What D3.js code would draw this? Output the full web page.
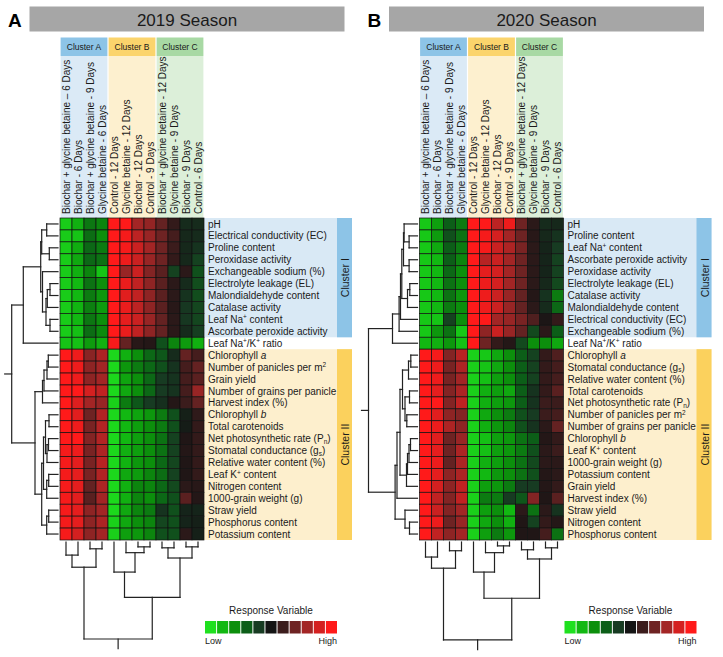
<!DOCTYPE html>
<html>
<head>
<meta charset="utf-8">
<script src="https://cdn.jsdelivr.net/npm/d3@7"></script>
<style>
  html, body { margin: 0; padding: 0; background: #fff; }
  svg { display: block; font-family: "Liberation Sans", Arial, sans-serif; }
</style>
</head>
<body>
<svg id="chart" width="723" height="657"></svg>
<script>
// ---- data ----
const columns = [
  "Biochar + glycine betaine \u2013 6 Days",
  "Biochar - 6 Days",
  "Biochar + glycine betaine - 9 Days",
  "Glycine betaine - 6 Days",
  "Control - 12 Days",
  "Glycine betaine - 12 Days",
  "Biochar - 12 Days",
  "Control - 9 Days",
  "Biochar + glycine betaine - 12 Days",
  "Glycine betaine - 9 Days",
  "Biochar - 9 Days",
  "Control - 6 Days",
];

const colClusters = [
  { name: "Cluster A", first: 0, last: 3 },
  { name: "Cluster B", first: 4, last: 7 },
  { name: "Cluster C", first: 8, last: 11 },
];
const rowClusters = [
  { name: "Cluster I", first: 0, last: 9 },
  { name: "Cluster II", first: 11, last: 26 },
];

// ^x superscript, _x subscript, *x* italic
const rowsA = [
  "pH", "Electrical conductivity (EC)", "Proline content", "Peroxidase activity",
  "Exchangeable sodium (%)", "Electrolyte leakage (EL)", "Malondialdehyde content",
  "Catalase activity", "Leaf Na^+ content", "Ascorbate peroxide activity",
  "Leaf Na^+/K^+ ratio",
  "Chlorophyll *a*", "Number of panicles per m^2", "Grain yield", "Number of grains per panicle",
  "Harvest index (%)", "Chlorophyll *b*", "Total carotenoids", "Net photosynthetic rate (P_n)",
  "Stomatal conductance (g_s)", "Relative water content (%)", "Leaf K^+ content",
  "Nitrogen content", "1000-grain weight (g)", "Straw yield", "Phosphorus content", "Potassium content",
];
const rowsB = [
  "pH", "Proline content", "Leaf Na^+ content", "Ascorbate peroxide activity",
  "Peroxidase activity", "Electrolyte leakage (EL)", "Catalase activity",
  "Malondialdehyde content", "Electrical conductivity (EC)", "Exchangeable sodium (%)",
  "Leaf Na^+/K^+ ratio",
  "Chlorophyll *a*", "Stomatal conductance (g_s)", "Relative water content (%)", "Total carotenoids",
  "Net photosynthetic rate (P_n)", "Number of panicles per m^2", "Number of grains per panicle",
  "Chlorophyll *b*", "Leaf K^+ content", "1000-grain weight (g)", "Potassium content",
  "Grain yield", "Harvest index (%)", "Straw yield", "Nitrogen content", "Phosphorus content",
];

// scaled response (-5 low ... 5 high)
const valuesA = [
  [-4.5,-3.8,-2.5,-2.8,5,5,3,2.7,1.8,0.8,-0.6,-0.6],
  [-4.5,-4.3,-2.3,-3,5,4.8,3.5,2.8,2,1.2,-0.5,-0.6],
  [-4.5,-3.7,-2.2,-2.6,5,4.8,3.8,3,2,1,-0.5,-0.8],
  [-4.5,-3.6,-2.2,-2.4,5,4.6,3.8,2.8,2,0.8,-0.5,-1.2],
  [-4.5,-3.8,-2.8,-4.3,5,2.8,3.8,2.4,1.6,-1.2,0.6,-1.6],
  [-4.5,-4,-2.4,-3,5,4.5,3.6,2.6,1.6,0.6,-0.6,-1.5],
  [-4.5,-4,-2.6,-3.2,5,4.3,3.6,2.6,1.6,0.6,-0.8,-1.5],
  [-4.5,-3.9,-2.7,-3.3,5,4.5,3.5,2.6,1.6,0.5,-0.9,-1.3],
  [-4.5,-4,-2.5,-3,5,4.4,3.8,2.8,1.8,0.6,-0.9,-1.3],
  [-4.5,-4.2,-2.3,-2.9,5,4.5,3.6,2.6,1.8,0.6,-0.6,-1.1],
  [-4.3,-4.2,-3.3,-3.8,4.8,1.8,0.5,0.4,-1.6,-2.8,-3.3,-3.8],
  [5,4.6,2.5,3.2,-4.8,-3.8,-3,-2.2,-1.8,-0.6,1.8,1.2],
  [5,4.6,2.6,3,-4.8,-3.2,-2.6,-2.2,-1.6,-0.8,1.2,1.8],
  [5,4.6,2.6,3,-4.8,-3.5,-3,-2.2,-1,-0.8,1.2,1.6],
  [5,5,4,3.6,-4.8,-3.6,-3,-2.2,-1,-0.8,1.2,2.8],
  [5,4.2,3,2.8,-4.6,-2.6,-1.8,-1,-0.7,0.4,1,1.8],
  [5,4.3,2,3.3,-4.8,-4,-3.5,-3.2,-2.6,-1.6,-0.3,0.7],
  [5,4.6,2.2,3.3,-4.8,-4,-3.4,-3,-2.6,-1.6,-0.2,0.8],
  [5,5,2.4,3.3,-4.8,-4,-3.4,-3,-2.4,-1.2,0.3,0.8],
  [4.8,4.6,2.2,3.2,-4.8,-3.8,-3.4,-3,-2.4,-1.2,0.4,0.8],
  [4.8,4.4,2.2,3.4,-4.8,-3.9,-3.2,-3,-2.2,-1.3,0.3,0.8],
  [4.8,4.4,2.2,3.3,-4.8,-3.6,-3.3,-2.8,-2.3,-1.2,0.3,0.8],
  [4.8,4.4,1.8,3.2,-4.8,-3.8,-2.8,-2.8,-2.2,-1.4,0.6,0.5],
  [4.8,4.3,1.6,3,-4.8,-3.8,-2.8,-3,-2.2,-1.6,1.6,0.4],
  [4.8,4.4,2.6,3,-4.8,-3.6,-2.8,-2.6,-0.8,-1.6,-0.4,-0.4],
  [4.8,4.4,2.6,3.2,-4.6,-3.6,-3,-2.8,-1.3,-1.6,-0.4,-0.3],
  [4.8,4,2.6,3,-4.6,-3.4,-3.2,-2.8,-1.6,-1.6,0.6,-0.3],
];
const valuesB = [
  [-4.4,-3.4,-2,-2.6,5,5,3.5,4.6,2,0.6,-0.6,-0.5],
  [-4.4,-3.3,-1.6,-2.4,5,4.8,4,3,2,0.5,-0.5,-0.8],
  [-4.4,-3.6,-2,-2.6,5,4.8,3.8,3.2,2.2,0.6,-0.4,-1],
  [-4.4,-4,-2,-2.8,5,3.4,3.8,3,2,0.6,-0.4,-1.2],
  [-4.4,-4,-2.2,-3,5,4.4,4,3,2,0.6,-0.4,-1.2],
  [-4.4,-4,-2.4,-3,5,4.6,4,3,2,0.6,-0.5,-1.4],
  [-4.4,-4,-2.4,-3.2,5,4.6,3.8,2.8,1.8,0.4,-0.8,-2.6],
  [-4.4,-4,-2.6,-3,5,4.6,3.8,2.8,1.8,0.6,-0.6,-2.2],
  [-4.4,-4.3,-1.2,-3,5,5,3,2.8,2.2,1.4,0.2,0.8],
  [-4.4,-3.2,-2.4,-4.4,5,2.6,3.8,2.8,1.8,-1.4,0.6,-2],
  [-4,-3.8,-3.2,-4.2,5,2,0.8,0.4,-1.4,-3,-3,-3.6],
  [5,4.8,2.4,3.4,-4.6,-4.4,-3.6,-3,-2,-1.2,0.8,1.4],
  [5,4.6,2.2,3.2,-4.6,-4.3,-3.6,-3,-2,-1.2,0.8,1.2],
  [5,4.6,2.2,3,-4.6,-4.2,-3.4,-3,-2,-1.2,0.8,1.2],
  [5,4.4,2.4,3.2,-4.6,-3.8,-3.4,-3.6,-2,-0.8,0.8,1.6],
  [5,5,2.4,3.6,-4.6,-3.8,-3.4,-3.2,-2,-0.8,1,1],
  [5,4.3,2.6,2.4,-4.6,-3.6,-3,-2.6,-1.6,-1,1,1.2],
  [5,4.6,3.2,2.6,-4.6,-3.8,-3.2,-2.8,-1.6,-0.8,0.6,1.8],
  [5,4.3,2,2.8,-4.6,-4.2,-3.4,-3.2,-2.4,-2,0.4,0.8],
  [5,4.4,2,3.2,-4.6,-4.2,-3.4,-3.2,-2.6,-1.6,0.6,1],
  [5,4.6,1.8,3.2,-4.6,-3.8,-3.4,-3,-2.4,-1.4,0.6,0.6],
  [5,4.4,2.6,3.2,-4.6,-4,-3.2,-3,-2.4,-1.6,0.4,0.6],
  [5,4,2.6,3.6,-4.6,-3.4,-3.2,-2.6,-1,-1,0.4,0.8],
  [5,3.6,2.4,3.6,-4.6,-2.6,-2.6,-1,-1.8,2.4,0.3,1.6],
  [5,3.8,2.4,3,-4.6,-3.4,-3,-4,0.6,-2.4,0.6,-0.8],
  [5,4.6,2,2.8,-4.6,-3.6,-3,-3.8,0.3,-1.2,0.8,0.4],
  [5,3.6,2.6,3,-4.6,-3.4,-2.6,-3.2,0.3,0.3,1.2,-2.4],
];

// dendrograms: [left, right, height]; numbers are row / column indices
const rowTreeA = [
  [
    [
      [[0, 1, 11.3], [2, 3, 8.7], 16.3],
      [4, [[[5, 6, 8], 7, 10.7], [8, 9, 8], 12], 15.5],
      17.3,
    ],
    10, 34.7,
  ],
  [
    [[[[11, 12, 9.7], 13, 11], 14, 14], 15, 15.5],
    [
      [[[16, 17, 9], [[18, 19, 9.5], 20, 11], 12.5], [[21, 22, 9.3], 23, 11.3], 14.5],
      [[24, 25, 9.3], 26, 11.3],
      16.3,
    ],
    23,
  ],
  46.3,
];
const rowTreeB = [
  [
    [
      [
        [[[0, [1, 2, 8.4], 13.4], [3, 4, 8.4], 14], [[5, 6, 7.7], 7, 10], 15.7],
        8, 17,
      ],
      9, 18.4,
    ],
    10, 25,
  ],
  [
    [
      [
        [[[11, 12, 6.7], 13, 9], [[14, 15, 8], [16, 17, 10.7], 12.5], 15],
        [[[[18, 19, 7], 20, 8.5], 21, 10], 22, 11],
        17.5,
      ],
      23, 20.5,
    ],
    [24, [25, 26, 8], 12.5],
    22.4,
  ],
  49,
];
const colTreeA = [
  [[0, 1, 1.35], [2, 3, 0.7], 2.6],
  [[4, [5, [6, 7, 0.5], 1.1], 3.1], [[8, 9, 0.6], [10, 11, 0.5], 1.65], 5.7],
  10,
];
const colTreeB = [
  [[0, 1, 1.55], [2, 3, 0.9], 2.7],
  [[4, [5, [6, 7, 0.4], 1.1], 3.1], [[8, 9, 0.8], [10, 11, 0.6], 1.75], 5.8],
  10.1,
];

const legendSteps = d3.range(-5, 6);

// ---- styles ----
const palette = ["#1fe01f", "#12b812", "#0c8f0c", "#0c5e18", "#173b22", "#141414",
                 "#3b1c1c", "#6e2323", "#a32525", "#d42020", "#ff1a1a"];
const color = d3.scaleLinear().domain(legendSteps).range(palette).clamp(true);
const colClusterFill = { "Cluster A": ["#8dc4e7", "#dbeaf6"], "Cluster B": ["#fbd46c", "#fdf0cf"], "Cluster C": ["#a8d9a4", "#dcefd9"] };
const rowClusterFill = { "Cluster I": ["#8dc4e7", "#d9e9f5"], "Cluster II": ["#fbd15d", "#fdefcd"] };
const ink = "#1a1a1a";

const svg = d3.select("#chart");

function richText(sel, label) {
  const parts = label.split(/(\^.|_.|\*[^*]+\*)/).filter(s => s.length);
  let shift = 0;
  parts.forEach(p => {
    let t = p, dy = 0, size = null, italic = false;
    if (p[0] === "^") { t = p.slice(1); dy = -3.5; size = 6.5; }
    else if (p[0] === "_") { t = p.slice(1); dy = 1.8; size = 6.5; }
    else if (p[0] === "*") { t = p.slice(1, -1); italic = true; }
    const ts = sel.append("tspan").text(t).attr("dy", dy - shift);
    shift = dy;
    if (size) ts.attr("font-size", size);
    if (italic) ts.attr("font-style", "italic");
  });
}

function layoutTree(node, pos) {
  if (typeof node === "number") return { p: pos(node), h: 0, segs: [] };
  const [a, b, h] = node;
  const A = layoutTree(a, pos), B = layoutTree(b, pos);
  return {
    p: (A.p + B.p) / 2,
    h,
    segs: A.segs.concat(B.segs, [
      { p0: A.p, p1: A.p, h0: A.h, h1: h },
      { p0: B.p, p1: B.p, h0: B.h, h1: h },
      { p0: A.p, p1: B.p, h0: h, h1: h },
    ]),
  };
}

function drawPanel(p) {
  const g = svg.append("g").attr("transform", `translate(${p.ox},0)`);

  const x = d3.scaleBand().domain(d3.range(columns.length)).range([60, 204]);
  const y = d3.scaleBand().domain(d3.range(p.rows.length)).range([218, 540]);
  const bw = x.bandwidth(), bh = y.bandwidth();

  // -------- header --------
  g.append("text").attr("x", 8).attr("y", 27).attr("font-size", 19)
    .attr("font-weight", "bold").attr("fill", "#000").text(p.letter);
  g.append("rect").attr("x", 29.5).attr("y", 6.5).attr("width", 315).attr("height", 25)
    .attr("fill", "#a6a6a6");
  g.append("text").attr("x", 187).attr("y", 25.5).attr("text-anchor", "middle")
    .attr("font-size", 17).attr("fill", ink).text(p.title);

  // -------- column clusters + labels --------
  colClusters.forEach(c => {
    const x0 = x(c.first) + 0.6, x1 = x(c.last) + bw - 0.6;
    const [strong, light] = colClusterFill[c.name];
    g.append("rect").attr("x", x0).attr("y", 56).attr("width", x1 - x0).attr("height", 162).attr("fill", light);
    g.append("rect").attr("x", x0).attr("y", 37.5).attr("width", x1 - x0).attr("height", 18.5).attr("fill", strong);
    g.append("text").attr("x", (x0 + x1) / 2).attr("y", 50).attr("text-anchor", "middle")
      .attr("font-size", 8.5).attr("fill", ink).text(c.name);
  });
  g.selectAll("text.col").data(columns).enter().append("text")
    .attr("class", "col")
    .attr("transform", (d, i) => `translate(${x(i) + bw / 2 + 3.6},214) rotate(-90)`)
    .attr("font-size", 10).attr("fill", ink).text(d => d);

  // -------- row cluster backgrounds --------
  rowClusters.forEach(c => {
    const y0 = y(c.first), y1 = y(c.last) + bh;
    const [strong, light] = rowClusterFill[c.name];
    g.append("rect").attr("x", 204).attr("y", y0).attr("width", 148).attr("height", y1 - y0).attr("fill", light);
    g.append("rect").attr("x", 337).attr("y", y0).attr("width", 15).attr("height", y1 - y0).attr("fill", strong);
    g.append("text").attr("transform", `translate(345,${(y0 + y1) / 2}) rotate(-90)`)
      .attr("text-anchor", "middle").attr("dominant-baseline", "central")
      .attr("font-size", 10.5).attr("fill", ink).text(c.name);
  });

  // -------- heatmap --------
  const cells = [];
  p.values.forEach((row, r) => row.forEach((v, c) => cells.push({ r, c, v })));
  g.append("g").selectAll("rect").data(cells).enter().append("rect")
    .attr("x", d => x(d.c)).attr("y", d => y(d.r))
    .attr("width", bw).attr("height", bh)
    .attr("fill", d => color(d.v))
    .attr("stroke", "#111").attr("stroke-width", 0.7);

  // row labels
  p.rows.forEach((lab, r) => {
    const t = g.append("text").attr("x", 208).attr("y", y(r) + bh / 2 + 3.6)
      .attr("font-size", 10).attr("fill", ink);
    richText(t, lab);
  });

  // -------- row dendrogram --------
  const hx = d3.scaleLinear().domain([0, 50]).range([58, 8]);
  const rt = layoutTree(p.rowTree, i => y(i) + bh / 2);
  rt.segs.push({ p0: rt.p, p1: rt.p, h0: rt.h, h1: rt.h + 7 });
  g.append("g").selectAll("line").data(rt.segs).enter().append("line")
    .attr("x1", d => hx(d.h0)).attr("x2", d => hx(d.h1))
    .attr("y1", d => d.p0).attr("y2", d => d.p1)
    .attr("stroke", "#222").attr("stroke-width", 1.2).attr("stroke-linecap", "square");

  // -------- column dendrogram --------
  const hy = d3.scaleLinear().domain([0, 10]).range([542, 639]);
  const ct = layoutTree(p.colTree, i => x(i) + bw / 2);
  ct.segs.push({ p0: ct.p, p1: ct.p, h0: ct.h, h1: ct.h + 1 });
  g.append("g").selectAll("line").data(ct.segs).enter().append("line")
    .attr("x1", d => d.p0).attr("x2", d => d.p1)
    .attr("y1", d => hy(d.h0)).attr("y2", d => hy(d.h1))
    .attr("stroke", "#222").attr("stroke-width", 1.2).attr("stroke-linecap", "square");

  // -------- legend --------
  const lx = d3.scaleBand().domain(legendSteps).range([205, 337]).paddingInner(0.08);
  g.append("text").attr("x", 271).attr("y", 614).attr("text-anchor", "middle")
    .attr("font-size", 10).attr("fill", ink).text("Response Variable");
  g.append("g").selectAll("rect").data(legendSteps).enter().append("rect")
    .attr("x", d => lx(d)).attr("y", 621).attr("width", lx.bandwidth()).attr("height", 12.5)
    .attr("fill", d => color(d));
  g.append("text").attr("x", 205).attr("y", 644).attr("font-size", 9).attr("fill", ink).text("Low");
  g.append("text").attr("x", 337).attr("y", 644).attr("text-anchor", "end")
    .attr("font-size", 9).attr("fill", ink).text("High");
}

drawPanel({ ox: 0, letter: "A", title: "2019 Season", rows: rowsA, values: valuesA, rowTree: rowTreeA, colTree: colTreeA });
drawPanel({ ox: 359.5, letter: "B", title: "2020 Season", rows: rowsB, values: valuesB, rowTree: rowTreeB, colTree: colTreeB });
</script>
</body>
</html>
